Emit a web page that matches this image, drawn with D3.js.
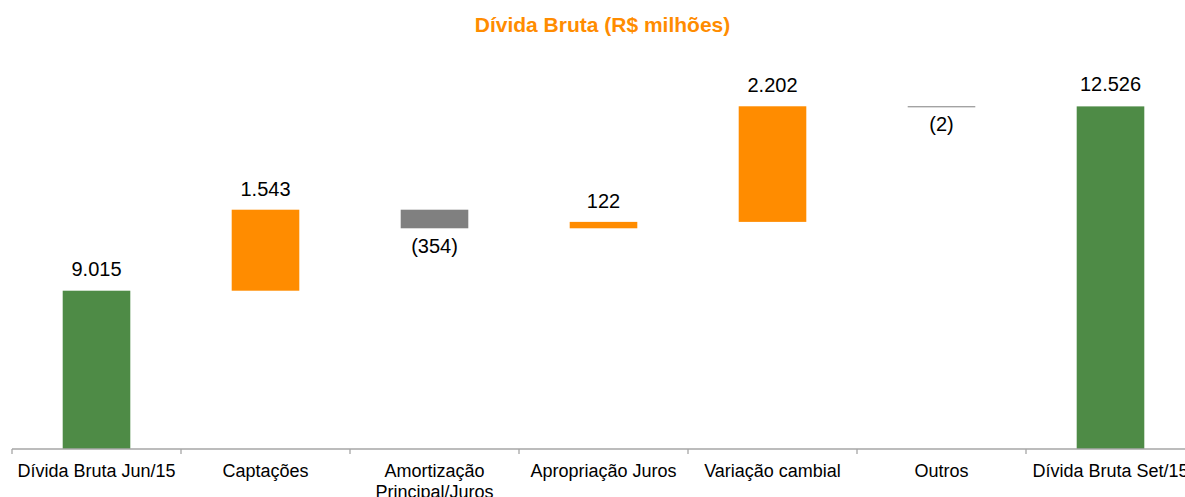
<!DOCTYPE html>
<html>
<head>
<meta charset="utf-8">
<script src="https://cdn.jsdelivr.net/npm/d3@7"></script>
<style>
  body { margin: 0; background: #fff; }
  text { font-family: "Liberation Sans", Arial, sans-serif; }
</style>
</head>
<body>
<div id="chart"></div>
<script>
"use strict";

// Waterfall data
const categories = ["Dívida Bruta Jun/15", "Captações", "Amortização Principal/Juros",
                    "Apropriação Juros", "Variação cambial", "Outros", "Dívida Bruta Set/15"];
const values = [9015, 1543, -354, 122, 2202, -2, 12526];
const isTotal = [true, false, false, false, false, false, true];

const width = 1185, height = 497;
const baseY = 449;

const svg = d3.select("#chart").append("svg")
  .attr("width", width)
  .attr("height", height);

// Build start/end for each step
let running = 0;
const steps = categories.map((c, i) => {
  let start, end;
  if (isTotal[i]) { start = null; end = values[i]; running = values[i]; }
  else { start = running; end = running + values[i]; running = end; }
  return { name: c, value: values[i], total: isTotal[i], start: start, end: end };
});

// Scales
const x = d3.scaleBand().domain(categories).range([12, 12 + 7 * 169]).padding(0);
const y = d3.scaleLinear().domain([6000, 14000]).range([baseY, 29]);
const barW = x.bandwidth() * 0.4;

const loc = d3.formatLocale({ decimal: ",", thousands: ".", grouping: [3], currency: ["R$", ""] });
const fmt = loc.format(",d");
const label = v => v < 0 ? "(" + fmt(-v) + ")" : fmt(v);

const colorOf = d => d.total ? "#4e8b46" : (d.value >= 0 ? "#ff8c00" : "#808080");

// Title
svg.append("text")
  .attr("x", 602.5)
  .attr("y", 32)
  .attr("text-anchor", "middle")
  .style("font-size", "21px")
  .style("font-weight", "bold")
  .style("fill", "#ff8c00")
  .text("Dívida Bruta (R$ milhões)");

// Bars
svg.selectAll(".bar").data(steps).enter()
  .append("rect")
  .attr("class", "bar")
  .attr("x", d => x(d.name) + (x.bandwidth() - barW) / 2)
  .attr("width", barW)
  .attr("y", d => d.total ? y(d.end) : y(Math.max(d.start, d.end)))
  .attr("height", d => {
    const h = d.total ? y.range()[0] - y(d.end) : Math.abs(y(d.start) - y(d.end));
    return Math.max(h, 1);
  })
  .style("fill", colorOf);

// Value labels
svg.selectAll(".vlabel").data(steps).enter()
  .append("text")
  .attr("class", "vlabel")
  .attr("x", d => x(d.name) + x.bandwidth() / 2)
  .attr("y", d => {
    if (d.total) return y(d.end) - 15;
    if (d.value >= 0) return y(d.end) - 14;
    return y(d.end) + 25;
  })
  .attr("text-anchor", "middle")
  .style("font-size", "20px")
  .style("fill", "#000")
  .text(d => label(d.value));

// X axis
const xAxis = d3.axisBottom(x).tickSize(0).tickPadding(0);
const gx = svg.append("g")
  .attr("class", "xAxis")
  .attr("transform", `translate(0,${baseY})`)
  .call(xAxis);
gx.select(".domain").attr("stroke", "#a6a6a6").attr("stroke-width", 1.3)
  .attr("d", `M12,0H${width + 20}`);
gx.selectAll(".tick text")
  .style("font-size", "18px")
  .style("fill", "#000")
  .attr("y", 28)
  .attr("dy", 0)
  .call(wrap, x.bandwidth() - 4);

// separators between categories
svg.selectAll(".sep").data(categories).enter()
  .append("line")
  .attr("class", "sep")
  .attr("x1", d => x(d)).attr("x2", d => x(d))
  .attr("y1", baseY).attr("y2", baseY + 5)
  .attr("stroke", "#a6a6a6")
  .attr("stroke-width", 1.3);

function wrap(texts, w) {
  texts.each(function() {
    const t = d3.select(this);
    const words = t.text().split(/\s+/);
    t.text(null);
    let line = [];
    let tspan = t.append("tspan").attr("x", 0).attr("y", 28);
    let n = 0;
    words.forEach(word => {
      line.push(word);
      tspan.text(line.join(" "));
      if (tspan.node().getComputedTextLength() > w && line.length > 1) {
        line.pop();
        tspan.text(line.join(" "));
        line = [word];
        n++;
        tspan = t.append("tspan").attr("x", 0).attr("y", 28 + n * 21).text(word);
      }
    });
  });
}
</script>
</body>
</html>
